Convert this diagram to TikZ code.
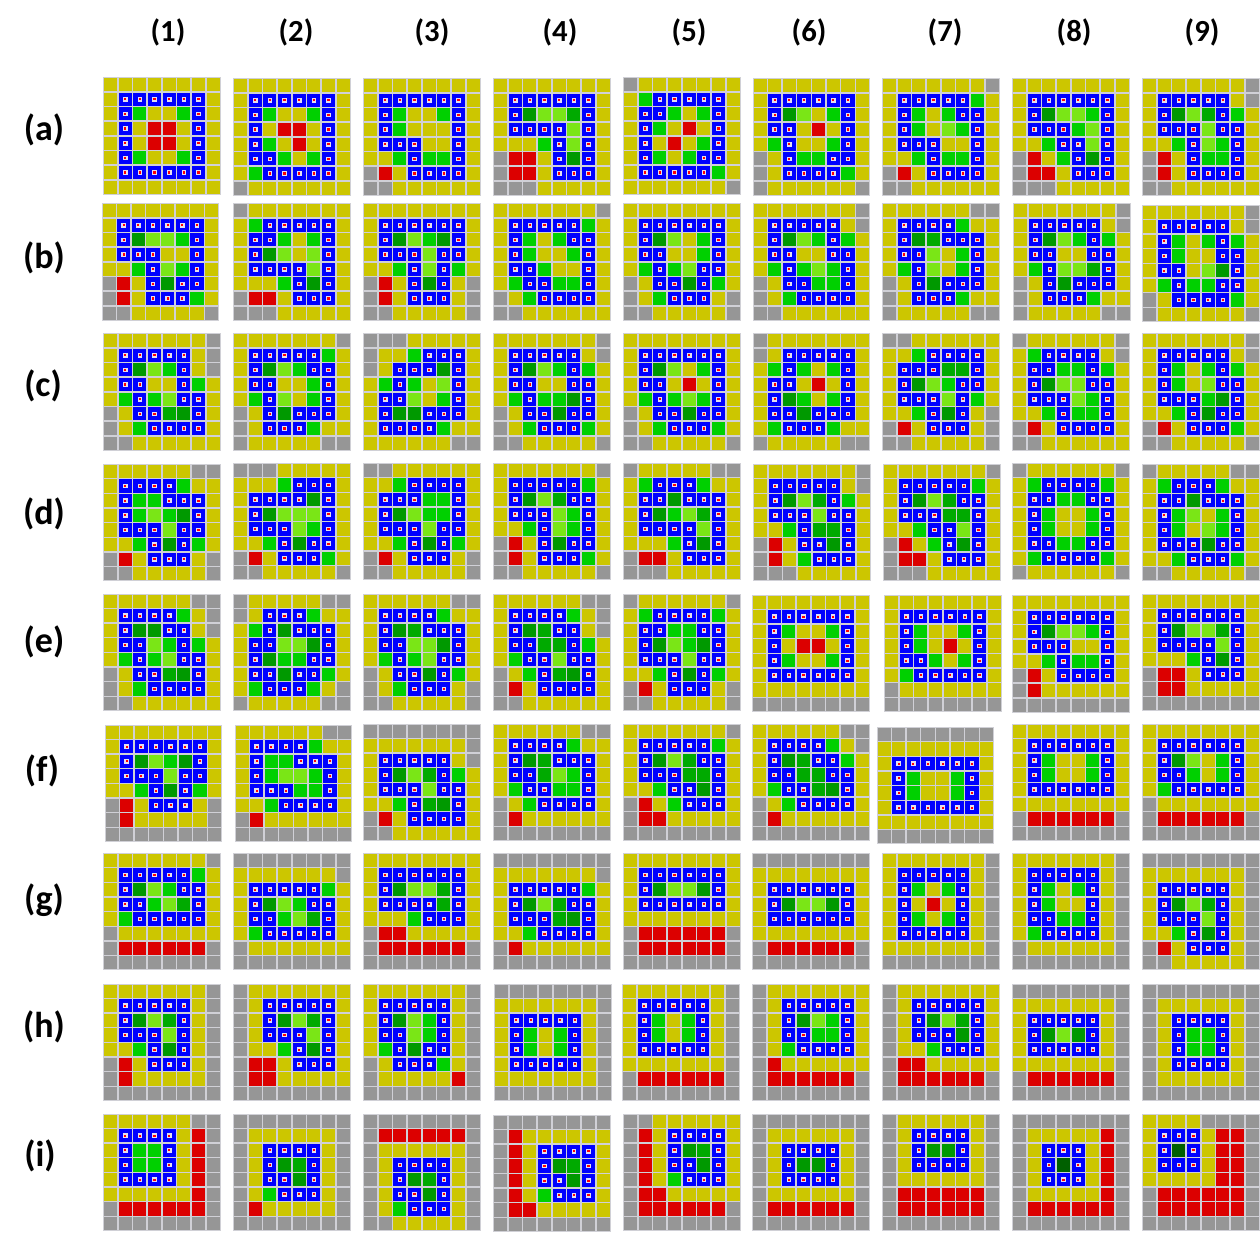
\documentclass[tikz,border=0pt]{standalone}
\usepackage{fontspec}
\setmainfont{Carlito}
\definecolor{colY}{RGB}{204,198,0}
\definecolor{colK}{RGB}{150,150,150}
\definecolor{colB}{RGB}{0,0,255}
\definecolor{colg}{RGB}{0,208,0}
\definecolor{coll}{RGB}{122,230,22}
\definecolor{cold}{RGB}{0,153,0}
\definecolor{colm}{RGB}{0,170,0}
\definecolor{colv}{RGB}{0,96,0}
\definecolor{colR}{RGB}{220,0,0}
\definecolor{gridc}{RGB}{208,208,214}
\definecolor{dotw}{RGB}{228,222,238}
\definecolor{dotr}{RGB}{255,0,0}
\newcount\rowidx
\newcount\colidx
\def\rowcells#1{\colidx=0 \rowloop#1\relax}
\def\rowloop#1{\ifx#1\relax\else\drawcell#1\advance\colidx by 1 \expandafter\rowloop\fi}
\def\drawcell#1{%
  \pgfmathsetmacro\mycx{\pnx+\the\colidx*14.66+0.8}%
  \pgfmathsetmacro\mycy{\pny+\the\rowidx*14.66+0.8}%
  \fill[fill=col#1] (\mycx,\mycy) rectangle ++(13.06,13.06);%
  \if B#1\fill[fill=dotw] (\mycx+4.2,\mycy+4.2) rectangle ++(4.66,4.66);\fill[fill=dotr] (\mycx+5.4,\mycy+5.4) rectangle ++(2.26,2.26);\fi}
\def\panel#1#2{\def\pnx{#1}\def\pny{#2}\fill[fill=gridc] (#1,#2) rectangle ++(117.3,117.3);\panelrows}
\def\panelrows#1#2#3#4#5#6#7#8{\rowidx=0 \rowcells{#1}\rowidx=1 \rowcells{#2}\rowidx=2 \rowcells{#3}\rowidx=3 \rowcells{#4}\rowidx=4 \rowcells{#5}\rowidx=5 \rowcells{#6}\rowidx=6 \rowcells{#7}\rowidx=7 \rowcells{#8}}
\begin{document}
\begin{tikzpicture}[x=0.75pt,y=-0.75pt,
  collab/.style={font=\bfseries\fontsize{23}{26}\selectfont,inner sep=0pt},
  rowlab/.style={font=\bfseries\fontsize{27}{30}\selectfont,inner sep=0pt}]
\fill[white] (0,0) rectangle (1260,1232);
\useasboundingbox (0,0) rectangle (1260,1232);
% headers
\node[collab] (h1) at (168,32) {(1)};
\node[collab] (h2) at (296,32) {(2)};
\node[collab] (h3) at (432,32) {(3)};
\node[collab] (h4) at (560,32) {(4)};
\node[collab] (h5) at (689,32) {(5)};
\node[collab] (h6) at (809,32) {(6)};
\node[collab] (h7) at (945,32) {(7)};
\node[collab] (h8) at (1074,32) {(8)};
\node[collab] (h9) at (1202,32) {(9)};
\node[rowlab] (ra) at (44,130) {(a)};
\node[rowlab] (rb) at (44,258) {(b)};
\node[rowlab] (rc) at (43,386) {(c)};
\node[rowlab] (rd) at (44,514) {(d)};
\node[rowlab] (re) at (44,642) {(e)};
\node[rowlab] (rf) at (42,771) {(f)};
\node[rowlab] (rg) at (44,900) {(g)};
\node[rowlab] (rh) at (44,1027) {(h)};
\node[rowlab] (ri) at (40,1156) {(i)};
% row a
\panel{103.3}{77.3}{YYYYYYYY}{YBBBBBBY}{YBgYYgBY}{YBYRRYBY}{YBYRRYBY}{YBgYYgBY}{YBBBBBBY}{YYYYYYYY}
\panel{233.3}{78.3}{YYYYYYYY}{YBBBBBBY}{YBgYYgBY}{YBYRRYBY}{YBgYRYBY}{YBBgYgBY}{YgBBBBBY}{KYYYYYYY}
\panel{363.3}{78.3}{YYYYYYYY}{YBBBBBBY}{YBgYYgBY}{YBgYYYBY}{YBBBYYBY}{YYgBggBY}{KRYBBBBY}{KKYYYYYY}
\panel{493.3}{78.3}{YYYYYYYY}{YBBBBBBY}{YBdllmBY}{YBBBBlBY}{YYYgBlBY}{KRRYBdBY}{KRRYBBBY}{KKKYYYYY}
\panel{623.3}{77.3}{KYYYYYYY}{YgBBBBBY}{YBBgYgBY}{YBgYRYBY}{YBYRYgBY}{YBgYgBBY}{YBBBBBgY}{YYYYYYYK}
\panel{752.7}{78.3}{YYYYYYYY}{YBBBBBBY}{YBdlYgBY}{YBBYRYBY}{YgBYYgBY}{KYBggBBY}{KYBBBBgY}{KYYYYYYK}
\panel{882.3}{78.3}{YYYYYYYK}{YBBBBBgY}{YBgYgBBY}{YBgYlgBY}{YBBBYYBY}{YYgBggBY}{KRYBBBBY}{KKYYYYYY}
\panel{1012.3}{78.3}{YYYYYYYY}{YBBBBBBY}{YBdllgBY}{YBBBglBY}{YYgBBlBY}{KRYgBdBY}{KRRYBBBY}{KKKYYYYY}
\panel{1142.3}{78.3}{YYYYYYYK}{YBBBBBYK}{YBdlmBgY}{YBBBlBBY}{YYgBlgBY}{KRYBggBY}{KRYBBBBY}{KKYYYYYY}
% row b
\panel{101.7}{203.3}{YYYYYYYY}{YBBBBBBY}{YBdllgBY}{YBBBYYBY}{YYgBlgBY}{KRYBdBBY}{KRYBBBgY}{KKYYYYYK}
\panel{233.3}{203.3}{KYYYYYYY}{YgBBBBBY}{YBBgYgBY}{YBdlYlBY}{YBBBBlBY}{YYYgBdBY}{KRRYBBBY}{KKKYYYYY}
\panel{363.3}{203.3}{YYYYYYYY}{YBBBBBBY}{YBdlgdBY}{YBBBlBBY}{YYgBlBgY}{KRYBdBYK}{KRYBBBYK}{KKYYYYYK}
\panel{493.3}{203.3}{YYYYYYYK}{YBBBBBgY}{YBgYgBBY}{YBgYYgBY}{YBBgYYBY}{YgBBggBY}{KYgBBBBY}{KKYYYYYY}
\panel{623.3}{203.3}{YYYYYYYY}{YBBBBBBY}{YBdlYgBY}{YBBYYgBY}{YgBglBBY}{KYBBdBgY}{KYgBBBYK}{KKYYYYYK}
\panel{752.7}{203.3}{YYYYYYYK}{YBBBBBYK}{YBdlgBgY}{YBBYYBBY}{YgBglgBY}{KYBBggBY}{KYgBBBBY}{KKYYYYYY}
\panel{882.3}{203.3}{YYYYYYKK}{YBBBBgYY}{YBdmBBBY}{YBBlYgBY}{YgBlYgBY}{KYBdBBBY}{KYBBBgYY}{KYYYYYKK}
\panel{1013.3}{203.3}{YYYYYYYK}{YBBBBBYK}{YBdlgBgY}{YBBYYBBY}{YgBllmBY}{KYBdBBBY}{KYBBBgYY}{KYYYYYKK}
\panel{1142.3}{204.7}{YYYYYYYK}{YBBBBBYK}{YBgYgBgY}{YBgYYBBY}{YBBYldBY}{YgBggBBY}{KYBBBBgY}{KYYYYYYK}
% row c
\panel{103.3}{333.3}{YYYYYYYK}{YBBBBBYK}{YBdlgBYK}{YBBYYBgY}{YgBglBBY}{KYBBmdBY}{KYgBBBBY}{KKYYYYYY}
\panel{233.3}{333.3}{YYYYYYYK}{YBBBBBgY}{YBdlgBBY}{YBBYYgBY}{YgBlYgBY}{KYBdBBBY}{KYBBBgYY}{KYYYYYKK}
\panel{363.3}{333.3}{KKKYYYYY}{KYYgBBBY}{KYBBBdBY}{YgBgYlBY}{YBBlYgBY}{YBddBBBY}{YBBBBgYY}{YYYYYYKK}
\panel{493.3}{333.3}{YYYYYYYK}{YBBBBBYK}{YBdlgBgY}{YBBYYBBY}{YgBggdBY}{KYBBdBBY}{KYgBBBgY}{KKYYYYYK}
\panel{623.3}{333.3}{YYYYYYYY}{YBBBBBBY}{YBdlYgBY}{YBBYRYBY}{YgBglgBY}{KYBBdBBY}{KYgBBBgY}{KKYYYYYK}
\panel{752.7}{333.3}{KYYYYYYY}{KYBBBBBY}{YgBgYgBY}{YBBYRYBY}{YBdgYgBY}{YBBdBBBY}{YgBBBgYY}{KYYYYYKK}
\panel{882.3}{333.3}{KKYYYYYY}{YYgBBBBY}{YBBBmmBY}{YBdlgBBY}{YBBBlBgY}{YYgBdBYK}{KRYBBBYK}{KKYYYYYK}
\panel{1012.3}{333.3}{KYYYYYYK}{YgBBBBYK}{YBBggBgY}{YBdllBBY}{YBBBlgBY}{YYgBggBY}{KRYBBBBY}{KKYYYYYY}
\panel{1142.3}{333.3}{YYYYYYYK}{YBBBBBYK}{YBgYgBgY}{YBgYlBBY}{YBBBgdBY}{YYgBdBBY}{KRYBBBgY}{KKYYYYYK}
% row d
\panel{103.3}{464}{YYYYYYKK}{YBBBBgYY}{YBggBBBY}{YBglgdBY}{YBBBlBBY}{YYgBdBgY}{KRYBBBYK}{KKYYYYYK}
\panel{233.3}{463}{KKKYYYYY}{YYYgBBBY}{YBBBBdBY}{YBdlllBY}{YBBBlgBY}{YYgBdBBY}{KRYBBBgY}{KKYYYYYK}
\panel{363.3}{463}{KKYYYYYY}{YYgBBBBY}{YBBBggBY}{YBdlggBY}{YBBBlBBY}{YYgBdBgY}{KRYBBBYK}{KKYYYYYK}
\panel{493.3}{463}{YYYYYYYK}{YBBBBBgY}{YBdlmBBY}{YBBBlgBY}{YYgBlgBY}{KRYBdBBY}{KRYBBBgY}{KKYYYYYK}
\panel{623.3}{463}{KYYYYYKK}{YgBBBgYY}{YBBdBBBY}{YBdglmBY}{YBBBBlBY}{YYYgBdBY}{KRRYBBBY}{KKKYYYYY}
\panel{753.3}{464}{YYYYYYYK}{YBBBBBYK}{YBdlmBgY}{YBBBlBBY}{YYgBmmBY}{KRYBBdBY}{KRYgBBBY}{KKKYYYYY}
\panel{883.3}{464}{YYYYYYYK}{YBBBBBgY}{YBdlmBBY}{YBBBmmBY}{YYgBBlBY}{KRYgBdBY}{KRRYBBBY}{KKKYYYYY}
\panel{1012.3}{463}{KYYYYYYK}{YgBBBBgY}{YBBggBBY}{YBgYYgBY}{YBgYYgBY}{YBBggBBY}{YgBBBBgY}{KYYYYYYK}
\panel{1142.3}{464}{KYYYYYKK}{YgBBBgYY}{YBBdBBBY}{YBglYgBY}{YBgYlgBY}{YBBBdBBY}{YYgBBBgY}{KKYYYYYK}
% row e
\panel{103.3}{593.7}{YYYYYYKK}{YBBBBgYK}{YBddBBYK}{YBBlgBgY}{YgBglBBY}{KYBBmdBY}{KYgBBBBY}{KKYYYYYY}
\panel{233.3}{593.7}{KYYYYYKK}{KYBBBgYY}{YgBdBBBY}{YBBlldBY}{YBdggBBY}{YBBdBBgY}{YgBBBgYK}{KYYYYYKK}
\panel{363.3}{593.7}{YYYYYYKK}{YBBBBgYY}{YBdmBBBY}{YBBlldBY}{YgBglBBY}{KYBBdBgY}{KYgBBBYK}{KKYYYYYK}
\panel{493.3}{593.7}{YYYYYYKK}{YBBBBgYK}{YBdmBBYK}{YBBmmBgY}{YgBBlBBY}{KYgBmdBY}{KRYBBBBY}{KKYYYYYY}
\panel{623.3}{593.7}{KYYYYYYK}{YgBBBBgY}{YBBggBBY}{YBdlgdBY}{YBBBlBBY}{YYgBdBgY}{KRYBBBYK}{KKYYYYYK}
\panel{752.3}{594.7}{YYYYYYYY}{YBBBBBBY}{YBgYYgBY}{YBYRRYBY}{YBgYYgBY}{YBBBBBBY}{YYYYYYYY}{KKKKKKKK}
\panel{884.3}{594.7}{YYYYYYYY}{YBBBBBBY}{YBgYYgBY}{YBgYRYBY}{YBBgYgBY}{YgBBBBBY}{KYYYYYYY}{KKKKKKKK}
\panel{1012.3}{595.3}{YYYYYYYY}{YBBBBBBY}{YBdllgBY}{YBBBYYBY}{YYgBggBY}{KRYBBBBY}{KRYYYYYY}{KKKKKKKK}
\panel{1142.3}{593.7}{YYYYYYYY}{YBBBBBBY}{YBdllmBY}{YBBBBlBY}{YYYgBdBY}{KRRYBBBY}{KRRYYYYY}{KKKKKKKK}
% row f
\panel{104.7}{724.7}{YYYYYYYY}{YBBBBBBY}{YBdlgdBY}{YBBBlBBY}{YYgBdBgY}{KRYBBBYK}{KRYYYYYK}{KKKKKKKK}
\panel{234.7}{724.7}{YYYYYYKK}{YBBBBgYY}{YBggBBBY}{YBgllgBY}{YBBBggBY}{YYgBBBBY}{KRYYYYYY}{KKKKKKKK}
\panel{363.3}{723.7}{KKKKKKKK}{YYYYYYYK}{YBBBBBYK}{YBdlmBgY}{YBBBlBBY}{YYgBmdBY}{KRYBBBBY}{KKYYYYYY}
\panel{493.3}{723.7}{YYYYYYKK}{YBBBBgYY}{YBdmBBBY}{YBBmlgBY}{YgBBggBY}{KYgBBBBY}{KRYYYYYY}{KKKKKKKK}
\panel{623.3}{723.7}{YYYYYYYK}{YBBBBBgY}{YBdlmBBY}{YBBBmmBY}{YYgBBdBY}{KRYgBBBY}{KRRYYYYY}{KKKKKKKK}
\panel{752.3}{723.7}{YYYYYYKK}{YBBBBgYK}{YBdmBBgY}{YBBmmBBY}{YgBBmdBY}{KYgBBBBY}{KRYYYYYY}{KKKKKKKK}
\panel{876.7}{727}{KKKKKKKK}{YYYYYYYY}{YBBBBBBY}{YBgYYgBY}{YBgYYgBY}{YBBBBBBY}{YYYYYYYY}{KKKKKKKK}
\panel{1012.3}{723.7}{YYYYYYYY}{YBBBBBBY}{YBgYYgBY}{YBgYYgBY}{YBBBBBBY}{YYYYYYYY}{KRRRRRRK}{KKKKKKKK}
\panel{1142.3}{723.7}{YYYYYYYY}{YBBBBBBY}{YBdlYgBY}{YBBgYgBY}{YgBBBBBY}{KYYYYYYY}{KRRRRRRK}{KKKKKKKK}
% row g
\panel{103.3}{853}{YYYYYYYK}{YBBBBBgY}{YBdlgBBY}{YBBglmBY}{YgBBBBBY}{KYYYYYYY}{KRRRRRRK}{KKKKKKKK}
\panel{233.3}{853}{KKKKKKKK}{YYYYYYYK}{YBBBBBgY}{YBdlgBBY}{YBBglmBY}{YgBBBBBY}{KYYYYYYY}{KKKKKKKK}
\panel{363.3}{853}{YYYYYYYY}{YBBBBBBY}{YBdllmBY}{YBBBBmBY}{YYYgBBBY}{KRRYYYYY}{KRRRRRRK}{KKKKKKKK}
\panel{493.3}{853}{KKKKKKKK}{YYYYYYYK}{YBBBBBgY}{YBdlmBBY}{YBBBmdBY}{YYgBBBBY}{KRYYYYYY}{KKKKKKKK}
\panel{623.3}{853}{YYYYYYYY}{YBBBBBBY}{YBdlldBY}{YBBBBBBY}{YYYYYYYY}{KRRRRRRK}{KRRRRRRK}{KKKKKKKK}
\panel{752.3}{853}{KKKKKKKK}{YYYYYYYY}{YBBBBBBY}{YBdlldBY}{YBBBBBBY}{YYYYYYYY}{KRRRRRRK}{KKKKKKKK}
\panel{882.3}{853}{YYYYYYYK}{YBBBBBYK}{YBgYgBYK}{YBYRYBYK}{YBgYgBYK}{YBBBBBYK}{YYYYYYYK}{KKKKKKKK}
\panel{1012.3}{853}{YYYYYYYK}{YBBBBBYK}{YBgYgBYK}{YBgYYBYK}{YBBggBYK}{YgBBBBYK}{KYYYYYYK}{KKKKKKKK}
\panel{1142.3}{853}{KKKKKKKK}{YYYYYYYK}{YBBBBBYK}{YBdlmBYK}{YBBBlBYK}{YYgBdBYK}{KRYBBBYK}{KKYYYYYK}
% row h
\panel{103.3}{983.7}{YYYYYYYK}{YBBBBBYK}{YBdlmBYK}{YBBBlBYK}{YYgBdBYK}{KRYBBBYK}{KRYYYYYK}{KKKKKKKK}
\panel{233.3}{983.7}{KYYYYYYY}{KYBBBBBY}{KYBdlmBY}{KYBBBlBY}{KYYgBdBY}{KRRYBBBY}{KRRYYYYY}{KKKKKKKK}
\panel{363.3}{983.7}{YYYYYYYK}{YBBBBBYK}{YBdlgBYK}{YBBlgBYK}{YgBdBBYK}{KYBBBgYK}{KYYYYYRK}{KKKKKKKK}
\panel{494.3}{983.7}{KKKKKKKK}{YYYYYYYK}{YBBBBBYK}{YBgYgBYK}{YBgYgBYK}{YBBBBBYK}{YYYYYYYK}{KKKKKKKK}
\panel{622.3}{983.7}{YYYYYYYK}{YBBBBBYK}{YBgYgBYK}{YBgYgBYK}{YBBBBBYK}{YYYYYYYK}{KRRRRRRK}{KKKKKKKK}
\panel{752.3}{983.7}{KYYYYYYY}{KYBBBBBY}{KYBdlgBY}{KYBBggBY}{KYgBBBBY}{KRYYYYYY}{KRRRRRRK}{KKKKKKKK}
\panel{882.3}{983.7}{KYYYYYYY}{KYBBBBBY}{KYBdlmBY}{KYBBBdBY}{KYYgBBBY}{KRRYYYYY}{KRRRRRRK}{KKKKKKKK}
\panel{1012.3}{983.7}{KKKKKKKK}{YYYYYYYK}{YBBBBBYK}{YBdldBYK}{YBBBBBYK}{YYYYYYYK}{KRRRRRRK}{KKKKKKKK}
\panel{1142.3}{983.7}{KKKKKKKK}{KYYYYYYK}{KYBBBBYK}{KYBggBYK}{KYBggBYK}{KYBBBBYK}{KYYYYYYK}{KKKKKKKK}
% row i
\panel{103.3}{1113.7}{YYYYYYKK}{YBBBBYRK}{YBggBYRK}{YBggBYRK}{YBBBBYRK}{YYYYYYRK}{KRRRRRRK}{KKKKKKKK}
\panel{233.3}{1113.7}{KKKKKKKK}{KYYYYYYK}{KYBBBBYK}{KYBdmBYK}{KYBBdBYK}{KYgBBBYK}{KRYYYYYK}{KKKKKKKK}
\panel{363.3}{1113.7}{KKKKKKKK}{KRRRRRRK}{KYYYYYYK}{KYBBBBYK}{KYBdmBYK}{KYBBdBYK}{KYgBBBYK}{KKYYYYYK}
\panel{493.3}{1114.7}{KKKKKKKK}{KRYYYYYY}{KRYBBBBY}{KRYBdmBY}{KRYBBdBY}{KRYgBBBY}{KRRYYYYY}{KKKKKKKK}
\panel{623.3}{1113.7}{KKYYYYYY}{KRYBBBBY}{KRYBdmBY}{KRYBBdBY}{KRYgBBBY}{KRRYYYYY}{KRRRRRRK}{KKKKKKKK}
\panel{752.3}{1113.7}{KKKKKKKK}{KYYYYYYK}{KYBBBBYK}{KYBddBYK}{KYBBBBYK}{KYYYYYYK}{KRRRRRRK}{KKKKKKKK}
\panel{882.3}{1113.7}{KYYYYYYK}{KYBBBBYK}{KYBddBYK}{KYBBBBYK}{KYYYYYYK}{KRRRRRRK}{KRRRRRRK}{KKKKKKKK}
\panel{1012.3}{1113.7}{KKKKKKKK}{KYYYYYRK}{KYBBBYRK}{KYBvBYRK}{KYBBBYRK}{KYYYYYRK}{KRRRRRRK}{KKKKKKKK}
\panel{1142.3}{1113.7}{YYYYKKKK}{YBBBYRRK}{YBvBYRRK}{YBBBYRRK}{YYYYYRRK}{KRRRRRRK}{KRRRRRRK}{KKKKKKKK}
\end{tikzpicture}
\end{document}
